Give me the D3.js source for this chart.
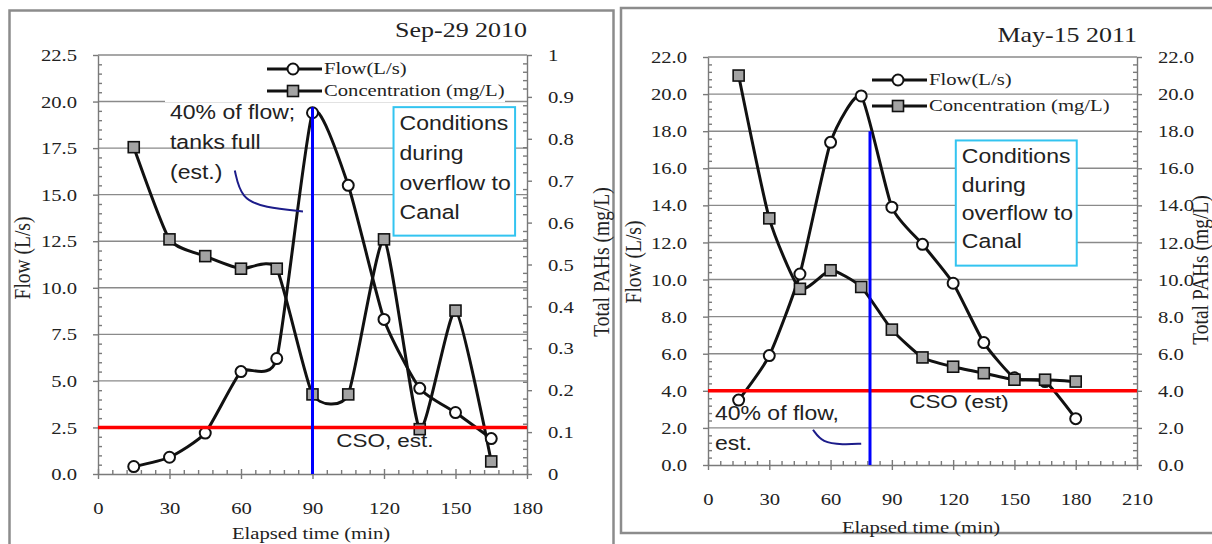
<!DOCTYPE html>
<html>
<head>
<meta charset="utf-8">
<script src="https://cdn.jsdelivr.net/npm/d3@7"></script>
<style>
  body { margin: 0; background: #fff; }
  svg text { fill: #222; }
</style>
</head>
<body>
<div class="chart"></div>
<script>
// data
let timesA = [15, 30, 45, 60, 75, 90, 105, 120, 135, 150, 165];
let flowA = [0.4, 0.9, 2.2, 5.5, 6.2, 19.4, 15.5, 8.3, 4.6, 3.3, 1.9];
let concA = [0.78, 0.56, 0.52, 0.49, 0.49, 0.19, 0.19, 0.56, 0.107, 0.39, 0.03];

let timesB = [15, 30, 45, 60, 75, 90, 105, 120, 135, 150, 165, 180];
let flowB = [3.5, 5.9, 10.3, 17.4, 19.9, 13.9, 11.9, 9.8, 6.6, 4.7, 4.5, 2.5];
let concB = [21.0, 13.3, 9.5, 10.5, 9.6, 7.3, 5.8, 5.3, 4.95, 4.6, 4.6, 4.5];

let xTicksA = [0, 30, 60, 90, 120, 150, 180];
let xTicksB = [0, 30, 60, 90, 120, 150, 180, 210];
let flowTicksA = [0, 2.5, 5, 7.5, 10, 12.5, 15, 17.5, 20, 22.5];
let concTicksA = [0, 0.1, 0.2, 0.3, 0.4, 0.5, 0.6, 0.7, 0.8, 0.9, 1];
let flowTicksB = [0, 2, 4, 6, 8, 10, 12, 14, 16, 18, 20, 22];

let SX = 1.18; // the picture is stretched sideways, so is its text
let serif = "'Liberation Serif', 'Times New Roman', serif";
let sans = "'Liberation Sans', Arial, sans-serif";

let svg = d3.select(".chart").append("svg")
  .attr("width", 1212).attr("height", 544);

function txt(g, x, y, s, size, font, anchor) {
  return g.append("text")
    .attr("transform", `translate(${x},${y}) scale(${SX},1)`)
    .attr("font-family", font || serif)
    .attr("font-size", size)
    .attr("text-anchor", anchor || "start")
    .text(s);
}
function vtxt(g, x, y, s, size) {
  return g.append("text")
    .attr("transform", `translate(${x},${y}) rotate(-90) scale(1,${SX})`)
    .attr("font-family", serif)
    .attr("font-size", size)
    .attr("text-anchor", "middle")
    .attr("dy", "0.35em")
    .text(s);
}
function minors(max, step, every) {
  return d3.range(0, Math.round(max / step) + 1)
    .filter((i) => i % every !== 0)
    .map((i) => i * step);
}

function panel(p) {
  let g = svg.append("g");
  let x = d3.scaleLinear().domain(p.xDomain).range(p.xRange);
  let yF = d3.scaleLinear().domain(p.fDomain).range(p.yRange);
  let yC = d3.scaleLinear().domain(p.cDomain).range(p.yRange);
  let [x0, x1] = p.xRange;
  let [yb, yt] = p.yRange;

  // frame
  g.append("rect")
    .attr("x", p.frame[0]).attr("y", p.frame[1])
    .attr("width", p.frame[2]).attr("height", p.frame[3])
    .attr("fill", "none").attr("stroke", "#8c8c8c").attr("stroke-width", 2.5);

  // gridlines
  g.selectAll(".grid").data(p.fTicks.slice(1)).enter().append("line")
    .attr("x1", x0).attr("x2", x1)
    .attr("y1", (d) => yF(d)).attr("y2", (d) => yF(d))
    .attr("stroke", "#8a8a8a").attr("stroke-width", 1.4);

  let styleAxis = (a) => {
    a.selectAll("path, line").attr("stroke", "#7a7a7a").attr("stroke-width", 1.4);
    a.selectAll("text").attr("font-family", serif).attr("font-size", 17.5).attr("fill", "#333");
  };

  // left axis
  let la = g.append("g").attr("transform", `translate(${x0},0)`)
    .call(d3.axisLeft(yF).tickValues(p.fTicks).tickSize(5).tickSizeOuter(0).tickFormat(p.fFmt));
  la.selectAll("text").attr("transform", `scale(${SX},1)`).attr("x", -21 / SX);
  styleAxis(la);
  g.append("g").attr("transform", `translate(${x0},0)`)
    .call(d3.axisLeft(yF).tickValues(p.fMinor).tickSize(-4).tickFormat(""))
    .call(styleAxis).select(".domain").remove();

  // right axis
  let ra = g.append("g").attr("transform", `translate(${x1},0)`)
    .call(d3.axisRight(yC).tickValues(p.cTicks).tickSize(5).tickSizeOuter(0).tickFormat(p.cFmt));
  ra.selectAll("text").attr("transform", `scale(${SX},1)`).attr("x", 21 / SX);
  styleAxis(ra);
  g.append("g").attr("transform", `translate(${x1},0)`)
    .call(d3.axisRight(yC).tickValues(p.cMinor).tickSize(-4).tickFormat(""))
    .call(styleAxis).select(".domain").remove();

  // bottom axis
  let ba = g.append("g").attr("transform", `translate(0,${yb})`)
    .call(d3.axisBottom(x).tickValues(p.xTicks).tickSize(5).tickSizeOuter(0));
  ba.selectAll("text").attr("transform", `scale(${SX},1)`).attr("y", 28).attr("x", 0);
  styleAxis(ba);
  g.append("g").attr("transform", `translate(0,${yb})`)
    .call(d3.axisBottom(x).tickValues(minors(p.xDomain[1], 6, 5)).tickSize(-4).tickFormat(""))
    .call(styleAxis).select(".domain").remove();
  g.append("g").attr("transform", `translate(0,${yb})`)
    .call(d3.axisBottom(x).tickValues(p.xTicks).tickSize(-5).tickFormat(""))
    .call(styleAxis).select(".domain").remove();

  // white patch behind legend / boxes
  if (p.legendBg) {
    g.append("rect").attr("x", p.legendBg[0]).attr("y", p.legendBg[1])
      .attr("width", p.legendBg[2]).attr("height", p.legendBg[3]).attr("fill", "#fff");
  }
  g.append("rect")
    .attr("x", x(p.box[0])).attr("y", yF(p.box[1]))
    .attr("width", x(p.box[2]) - x(p.box[0])).attr("height", yF(p.box[3]) - yF(p.box[1]))
    .attr("fill", "#fff").attr("stroke", "#33c4f0").attr("stroke-width", 2);
  p.boxText.forEach((s, i) => {
    txt(g, x(p.box[0]) + 6, yF(p.box[1]) + 23 + i * p.boxGap, s, 19.5, sans);
  });

  // series
  let flowPts = p.times.map((t, i) => [t, p.flow[i]]);
  let concPts = p.times.map((t, i) => [t, p.conc[i]]);
  let curve = d3.curveCardinal.tension(0.45);
  g.append("path").datum(flowPts)
    .attr("d", d3.line().x((d) => x(d[0])).y((d) => yF(d[1])).curve(curve))
    .attr("fill", "none").attr("stroke", "#111").attr("stroke-width", 3);
  g.append("path").datum(concPts)
    .attr("d", d3.line().x((d) => x(d[0])).y((d) => yC(d[1])).curve(curve))
    .attr("fill", "none").attr("stroke", "#111").attr("stroke-width", 3);
  g.selectAll(".fp").data(flowPts).enter().append("circle")
    .attr("cx", (d) => x(d[0])).attr("cy", (d) => yF(d[1])).attr("r", 5.5)
    .attr("fill", "#fff").attr("stroke", "#111").attr("stroke-width", 2);
  g.selectAll(".cp").data(concPts).enter().append("rect")
    .attr("x", (d) => x(d[0]) - 5.5).attr("y", (d) => yC(d[1]) - 5.5)
    .attr("width", 11).attr("height", 11)
    .attr("fill", "#a3a3a3").attr("stroke", "#111").attr("stroke-width", 1.6);

  // CSO threshold and the 40 % marker
  g.append("line").attr("x1", x0).attr("x2", x1)
    .attr("y1", yF(p.cso)).attr("y2", yF(p.cso))
    .attr("stroke", "#ff0000").attr("stroke-width", 3.5);
  g.append("line").attr("x1", x(p.mark[0])).attr("x2", x(p.mark[0]))
    .attr("y1", yF(0)).attr("y2", yF(p.mark[1]))
    .attr("stroke", "#0000ff").attr("stroke-width", 3);

  txt(g, x(p.csoLabel[0]), yF(p.csoLabel[1]), p.csoText, 19, sans);
  p.noteText.forEach((s, i) => {
    txt(g, x(p.note[0]), yF(p.note[1]) + i * 30, s, 19.5, sans);
  });
  g.append("path")
    .attr("d", d3.line().x((d) => x(d[0])).y((d) => yF(d[1])).curve(d3.curveBasis)(p.arrow))
    .attr("fill", "none").attr("stroke", "#1c1c8a").attr("stroke-width", 2);

  // legend
  let lg = [[p.legend[1], "circle", "Flow(L/s)"], [p.legend[2], "square", "Concentration (mg/L)"]];
  lg.forEach(([ly, kind, label]) => {
    let lx = p.legend[0];
    g.append("line").attr("x1", lx - 26).attr("x2", lx + 29).attr("y1", ly).attr("y2", ly)
      .attr("stroke", "#111").attr("stroke-width", 3);
    if (kind === "circle") {
      g.append("circle").attr("cx", lx).attr("cy", ly).attr("r", 5.5)
        .attr("fill", "#fff").attr("stroke", "#111").attr("stroke-width", 2);
    } else {
      g.append("rect").attr("x", lx - 5.5).attr("y", ly - 5.5).attr("width", 11).attr("height", 11)
        .attr("fill", "#a3a3a3").attr("stroke", "#111").attr("stroke-width", 1.6);
    }
    txt(g, lx + 31, ly + 5, label, 17.5);
  });

  // titles
  txt(g, x1, p.titleY, p.title, 22, serif, "end");
  txt(g, p.xTitle[0], p.xTitle[1], "Elapsed time (min)", 17.5, serif, "middle");
  vtxt(g, p.yTitleL[0], p.yTitleL[1], "Flow (L/s)", 19.5);
  vtxt(g, p.yTitleR[0], p.yTitleR[1], "Total PAHs (mg/L)", 19.5);
}

panel({
  frame: [9.5, 10.5, 604, 560],
  xDomain: [0, 180], xRange: [98, 527],
  fDomain: [0, 22.5], cDomain: [0, 1], yRange: [474, 55],
  xTicks: xTicksA, fTicks: flowTicksA, cTicks: concTicksA,
  fMinor: minors(22.5, 0.5, 5), cMinor: minors(1, 0.02, 5),
  fFmt: d3.format(".1f"), cFmt: (d) => (d === 0 || d === 1 ? String(d) : d3.format(".1f")(d)),
  times: timesA, flow: flowA, conc: concA,
  cso: 2.5, mark: [90, 19.7],
  csoLabel: [100, 1.45], csoText: "CSO, est.",
  note: [30.2, 19.05], noteText: ["40% of flow;", "tanks full", "(est.)"],
  arrow: [[57.4, 16.3], [60, 14.8], [70, 14.3], [86, 14.1]],
  box: [124, 19.7, 175, 12.8], boxGap: 29.7,
  boxText: ["Conditions", "during", "overflow to", "Canal"],
  legendBg: [165, 57, 340, 45],
  legend: [293, 69, 91],
  title: "Sep-29 2010", titleY: 37,
  xTitle: [311, 539], yTitleL: [22, 258], yTitleR: [601, 262],
});

panel({
  frame: [621, 8, 620, 525],
  xDomain: [0, 210], xRange: [708, 1137],
  fDomain: [0, 22], cDomain: [0, 22], yRange: [465, 57],
  xTicks: xTicksB, fTicks: flowTicksB, cTicks: flowTicksB,
  fMinor: minors(22, 0.4, 5), cMinor: minors(22, 0.4, 5),
  fFmt: d3.format(".1f"), cFmt: d3.format(".1f"),
  times: timesB, flow: flowB, conc: concB,
  cso: 4.0, mark: [79.3, 18.0],
  csoLabel: [98.5, 3.1], csoText: "CSO (est)",
  note: [3.4, 2.45], noteText: ["40% of flow,", "est."],
  arrow: [[51.4, 1.9], [56, 1.2], [66, 1.1], [75, 1.15]],
  box: [121.3, 17.5, 180.5, 10.75], boxGap: 28.3,
  boxText: ["Conditions", "during", "overflow to", "Canal"],
  legend: [898, 80, 106],
  title: "May-15 2011", titleY: 42,
  xTitle: [921, 533], yTitleL: [633, 262], yTitleR: [1200, 270],
});
</script>
</body>
</html>
